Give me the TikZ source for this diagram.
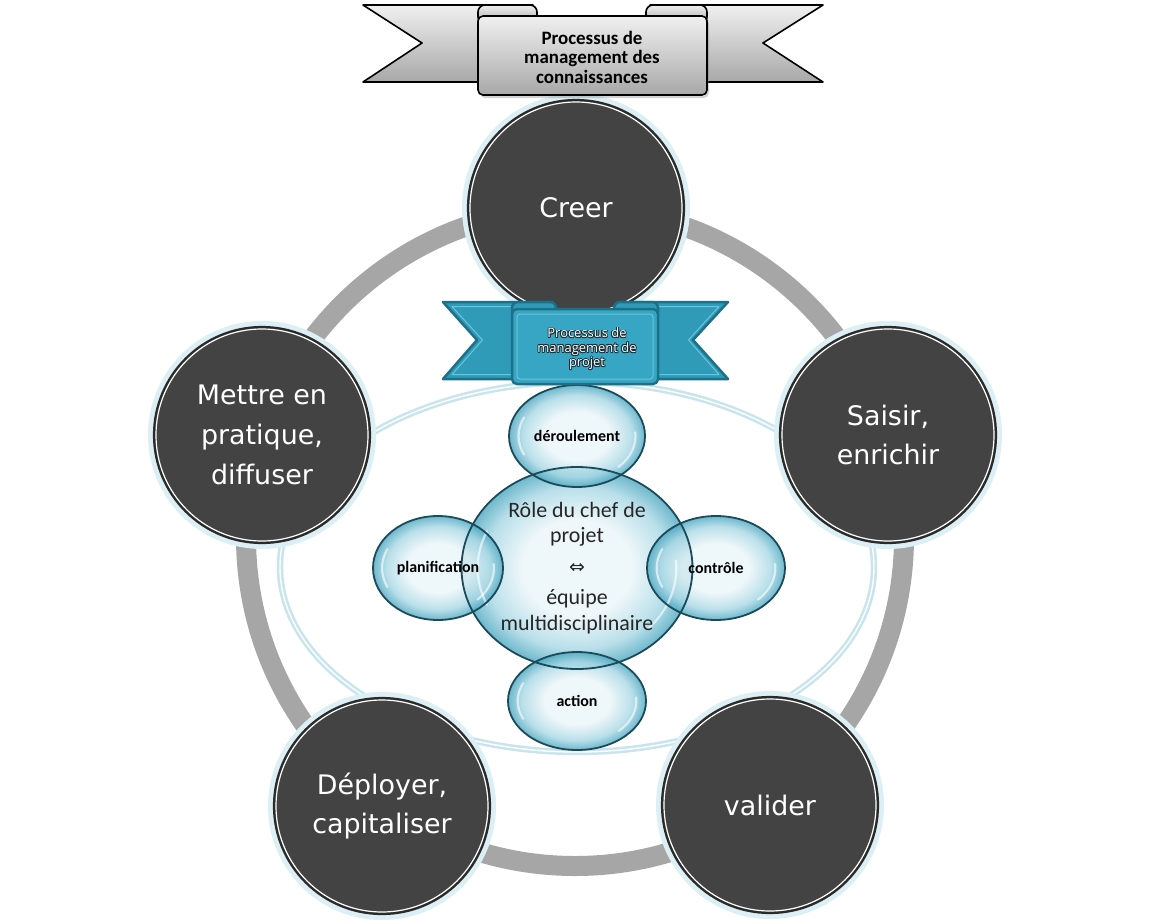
\documentclass[tikz,border=0pt]{standalone}
\usepackage{fontspec}
\newfontfamily\dejavu{DejaVu Sans}
\newfontfamily\carlito{Carlito}
\newfontfamily\opensans{Open Sans}
\usetikzlibrary{shapes.geometric,shadows}
\definecolor{ringgray}{HTML}{A6A6A6}
\definecolor{ellcol}{HTML}{C8E5EE}
\definecolor{halo}{HTML}{DCEFF5}
\definecolor{darkfill}{HTML}{444343}
\definecolor{darkline}{HTML}{2A2A2A}
\definecolor{bubin}{HTML}{EAF5F8}
\definecolor{bubmid}{HTML}{A8D8E5}
\definecolor{bubout}{HTML}{4AA7C0}
\definecolor{bubedge}{HTML}{1B4A5A}
\definecolor{gtop}{HTML}{F0F0F0}
\definecolor{gbot}{HTML}{A8A8A8}
\definecolor{bdark}{HTML}{1C7189}
\definecolor{bfill}{HTML}{2F9BB9}
\definecolor{bpanel}{HTML}{36A6C4}
\definecolor{blight}{HTML}{6CC4DA}
\definecolor{bbtextline}{HTML}{1E2C32}
\pgfdeclareradialshading{bubble}{\pgfpoint{0bp}{0bp}}{color(0bp)=(bubin); color(12bp)=(bubin); color(20bp)=(bubmid); color(25bp)=(bubout); color(50bp)=(bubout)}
\newcommand\bubgloss[4]{%
  \draw[white, opacity=0.6, line width=2.2bp, line cap=round]
    ([shift={(155:{0.86*#3 bp} and {0.86*#4 bp})}]#1,#2)
    arc[start angle=155, end angle=205, x radius={0.86*#3 bp}, y radius={0.86*#4 bp}];
  \draw[white, opacity=0.6, line width=2.2bp, line cap=round]
    ([shift={(-45:{0.86*#3 bp} and {0.86*#4 bp})}]#1,#2)
    arc[start angle=-45, end angle=5, x radius={0.86*#3 bp}, y radius={0.86*#4 bp}];
}
\begin{document}
\begin{tikzpicture}[x=1bp,y=-1bp,
  darkc/.style={circle, minimum size=216bp, inner sep=0pt, fill=darkfill, draw=darkline, line width=2.2bp, text=white, align=center, font=\dejavu\fontsize{27}{40}\selectfont},
  grayrib/.style={draw=black, line width=1.6bp, top color=gtop, bottom color=gbot, line join=round},
  bluerib/.style={draw=bdark, line width=2.5bp, fill=bfill, line join=round},
  bubfill/.style={ellipse, inner sep=0pt, shading=bubble, fill opacity=0.8},
  bubline/.style={draw=bubedge, line width=1.8bp},
  bubtext/.style={font=\carlito\bfseries\fontsize{16}{18}\selectfont, text=black},
  bbfont/.style={align=center, font=\opensans\fontsize{13}{14.5}\selectfont}
]
\useasboundingbox[fill=white] (0,0) rectangle (1150,920);

% grey ring
\coordinate (O) at (575,537);
\draw[ringgray, line width=20bp] (O) circle[radius=329bp];

% light blue ellipse
\coordinate (E) at (577,567);
\draw[ellcol, line width=2.5bp, double=white, double distance=1.4bp] (E) ellipse[x radius=297bp, y radius=185bp];

% dark circles
\fill[halo] (576,208) circle[radius=114bp];
\node[darkc] (creer) at (576,208) {Creer};
\draw[white, line width=1.2bp] (creer.center) circle[radius=106bp];

\fill[halo] (888,435) circle[radius=114bp];
\node[darkc] (saisir) at (888,435) {Saisir,\\enrichir};
\draw[white, line width=1.2bp] (saisir.center) circle[radius=106bp];

\fill[halo] (770,805) circle[radius=114bp];
\node[darkc] (valider) at (770,805) {valider};
\draw[white, line width=1.2bp] (valider.center) circle[radius=106bp];

\fill[halo] (382,806) circle[radius=114bp];
\node[darkc] (deployer) at (382,806) {Déployer,\\capitaliser};
\draw[white, line width=1.2bp] (deployer.center) circle[radius=106bp];

\fill[halo] (262,435) circle[radius=114bp];
\node[darkc] (mettre) at (262,435) {Mettre en\\pratique,\\diffuser};
\draw[white, line width=1.2bp] (mettre.center) circle[radius=106bp];

% bubbles (fills)
\node[bubfill, minimum width=231bp, minimum height=202bp] (centre) at (577,568) {};
\node[bubfill, minimum width=136bp, minimum height=102bp] (derou) at (577,436) {};
\node[bubfill, minimum width=130bp, minimum height=104bp] (plan) at (438,568) {};
\node[bubfill, minimum width=138bp, minimum height=104bp] (ctrl) at (716,568) {};
\node[bubfill, minimum width=138bp, minimum height=98bp] (action) at (577,701) {};
% gloss
\bubgloss{577}{568}{115.5}{101}
\bubgloss{577}{436}{68}{51}
\bubgloss{438}{568}{65}{52}
\bubgloss{716}{568}{69}{52}
\bubgloss{577}{701}{69}{49}
% bubble outlines
\draw[bubline] (centre.center) ellipse[x radius=115.5bp, y radius=101bp];
\draw[bubline] (derou.center) ellipse[x radius=68bp, y radius=51bp];
\draw[bubline] (plan.center) ellipse[x radius=65bp, y radius=52bp];
\draw[bubline] (ctrl.center) ellipse[x radius=69bp, y radius=52bp];
\draw[bubline] (action.center) ellipse[x radius=69bp, y radius=49bp];
% bubble texts
\node[bubtext] (tderou) at (derou.center) {déroulement};
\node[bubtext] (tplan) at (plan.center) {planification};
\node[bubtext] (tctrl) at (ctrl.center) {contrôle};
\node[bubtext] (taction) at (action.center) {action};
\node[align=center, font=\carlito\fontsize{22}{26}\selectfont, text=black!85] (tcentre) at (centre.center)
  {Rôle du chef de\\projet\\[5bp]{\dejavu\fontsize{19}{26}\selectfont ⇔}\\[5bp]équipe\\multidisciplinaire};

% blue ribbon
\path[bluerib] (552,302) -- (443,302) -- (477,340) -- (443,379) -- (512,379) -- cycle;
\draw[blight, line width=1bp, line join=round] (549,306.5) -- (452,306.5) -- (482.5,340) -- (452,374.5) -- (512,374.5);
\path[bluerib] (620,302) -- (728,302) -- (693,340) -- (728,379) -- (658,379) -- cycle;
\draw[blight, line width=1bp, line join=round] (623,306.5) -- (719,306.5) -- (688.5,340) -- (719,374.5) -- (658,374.5);
\path[bluerib, rounded corners=6bp] (512,302) rectangle (556,318);
\path[bluerib, rounded corners=6bp] (614,302) rectangle (658,318);
\path[bluerib, fill=bpanel, rounded corners=5bp] (512,309) rectangle (658,384);
\draw[blight, line width=1bp, rounded corners=3bp] (517,314) rectangle (653,379);
\foreach \dx/\dy/\k in {-0.9/0/1, 0.9/0/2, 0/-0.9/3, 0/0.9/4, 0.65/0.65/5, -0.65/-0.65/6, 0.65/-0.65/7, -0.65/0.65/8}
  \node[bbfont, text=bbtextline, xshift=\dx bp, yshift=\dy bp] (bbs\k) at (587,349) {Processus de\\management de\\projet};
\node[bbfont, text=white] (bbtitle) at (587,349) {Processus de\\management de\\projet};

% grey ribbon
\path[grayrib] (533,5) -- (363,5) -- (422,43) -- (363,82) -- (478,82) -- cycle;
\path[grayrib] (650,5) -- (823,5) -- (763,43) -- (823,82) -- (707,82) -- cycle;
\path[grayrib, rounded corners=7bp] (478,5) rectangle (537,24);
\path[grayrib, rounded corners=7bp] (646,5) rectangle (707,24);
\path[grayrib, rounded corners=5bp, drop shadow={shadow xshift=2bp, shadow yshift=-3bp, opacity=0.35}] (478,16) rectangle (707,95);
\node[align=center, font=\carlito\bfseries\fontsize{19}{19.5}\selectfont] (gtitle) at (592,57) {Processus de\\management des\\connaissances};
\end{tikzpicture}
\end{document}
